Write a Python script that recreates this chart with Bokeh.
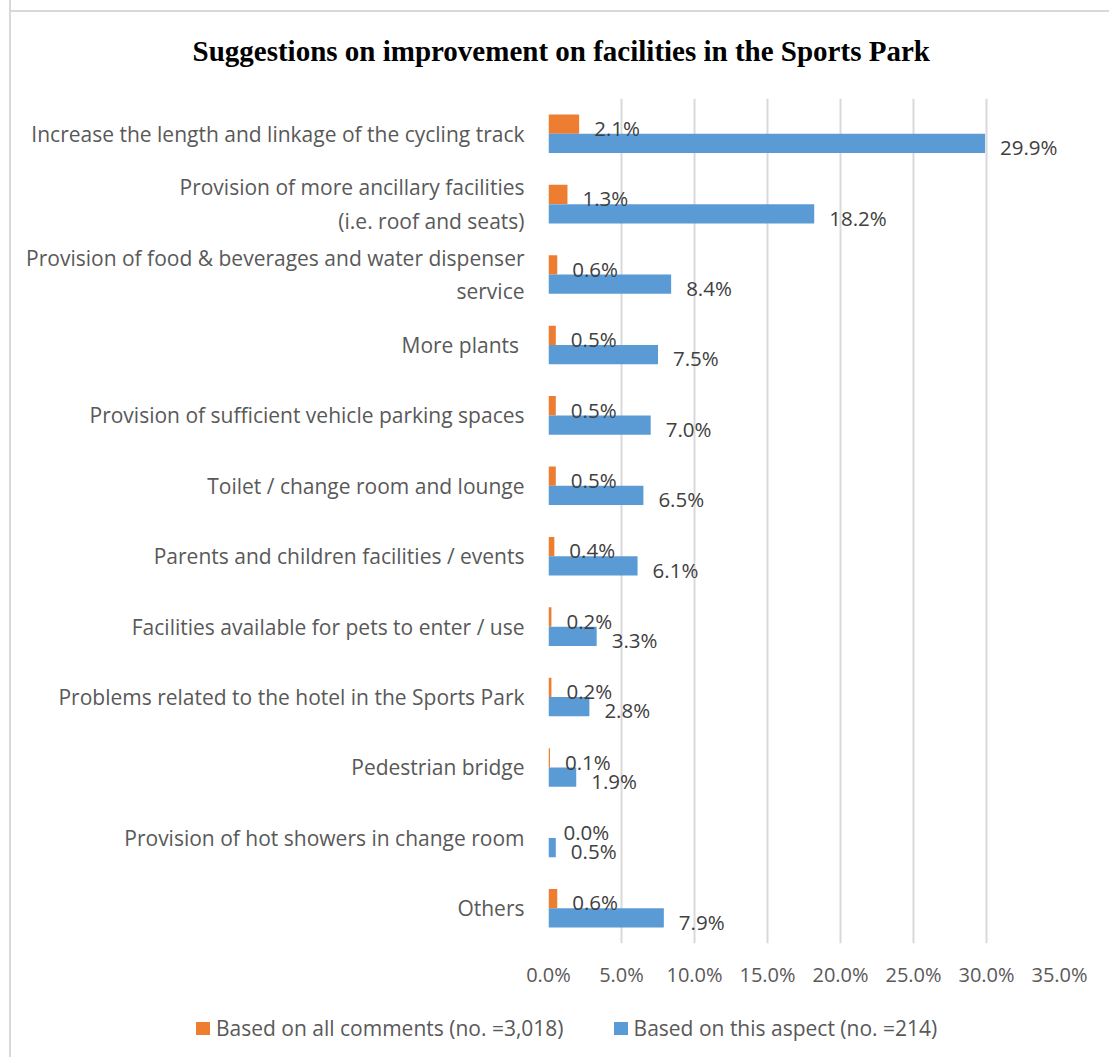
from bokeh.plotting import figure
from bokeh.layouts import column
from bokeh.models import (ColumnDataSource, FactorRange, Range1d, LabelSet,
                          PrintfTickFormatter, FixedTicker, Div)
from bokeh.core.properties import value
from bokeh.transform import dodge
from bokeh.embed import file_html
from bokeh.resources import INLINE

title_text = "Suggestions on improvement on facilities in the Sports  Park"
categories = [
    "Increase the length and linkage of the cycling track",
    "Provision of more ancillary facilities\n(i.e. roof and seats)",
    "Provision of food & beverages and water dispenser\nservice",
    "More plants ",
    "Provision of sufficient vehicle parking spaces",
    "Toilet / change room and lounge",
    "Parents and children facilities / events",
    "Facilities available for pets to enter / use",
    "Problems related to the hotel in the Sports Park",
    "Pedestrian bridge",
    "Provision of hot showers in change room",
    "Others",
]
all_comments = [2.1, 1.3, 0.6, 0.5, 0.5, 0.5, 0.4, 0.2, 0.2, 0.1, 0.0, 0.6]
this_aspect = [29.9, 18.2, 8.4, 7.5, 7.0, 6.5, 6.1, 3.3, 2.8, 1.9, 0.5, 7.9]
series_names = ["Based on all comments (no. =3,018)", "Based on this aspect (no. =214)"]
x_ticks = [0, 5, 10, 15, 20, 25, 30, 35]

ORANGE = "#ED7D31"
BLUE = "#5B9BD5"
series_colors = [ORANGE, BLUE]
FONT = "Open Sans"
BORDER = "#D9D9D9"
NBSP = "\u00a0"
ZWSP = "\u200b"

# second lines of wrapped labels are centred under the first line (as in the original)
label_pad = {categories[1]: 14, categories[2]: 39}
label_overrides = {}
for cat, n in label_pad.items():
    first, second = cat.split("\n")
    label_overrides[cat] = first + "\n" + second + NBSP * n + ZWSP

src = ColumnDataSource(dict(
    cat=categories,
    a=all_comments,
    b=this_aspect,
    a_lbl=[f"{v:.1f}%" for v in all_comments],
    b_lbl=[f"{v:.1f}%" for v in this_aspect],
))

vline = f"linear-gradient(to right, transparent 9px, {BORDER} 9px, {BORDER} 11px, transparent 11px)"
hline = f"linear-gradient(to bottom, transparent 10px, {BORDER} 10px, {BORDER} 12px, transparent 12px)"

p = figure(width=1109, height=1000,
           y_range=FactorRange(*categories[::-1]),
           x_range=Range1d(0, 35),
           output_backend="svg", toolbar_location=None,
           min_border_left=548, min_border_right=50,
           min_border_top=97, min_border_bottom=57,
           styles={
               "background-image": f"{vline}, {hline}",
               "background-position": "0px 0px, 9px 0px",
               "background-size": "100% 100%, 100% 100%",
               "background-repeat": "no-repeat",
           })
p.border_fill_color = None
p.background_fill_color = "#FFFFFF"

bar_h = 0.274
r_a = p.hbar(y=dodge("cat", bar_h / 2, range=p.y_range), right="a", left=0, height=bar_h,
             source=src, fill_color=ORANGE, line_color=None)
r_b = p.hbar(y=dodge("cat", -bar_h / 2, range=p.y_range), right="b", left=0, height=bar_h,
             source=src, fill_color=BLUE, line_color=None)

lbl_a = LabelSet(x="a", y=dodge("cat", bar_h / 2 - 0.054, range=p.y_range), text="a_lbl",
                 source=src, x_offset=15, text_baseline="middle", text_align="left",
                 text_font=value(FONT), text_font_size=value("20.5px"), text_color="#404040")
lbl_b = LabelSet(x="b", y=dodge("cat", -bar_h / 2 - 0.054, range=p.y_range), text="b_lbl",
                 source=src, x_offset=15, text_baseline="middle", text_align="left",
                 text_font=value(FONT), text_font_size=value("20.5px"), text_color="#404040")
p.add_layout(lbl_a)
p.add_layout(lbl_b)

p.title.text = title_text
p.title.text_font = "Liberation Serif"
p.title.text_font_style = "bold"
p.title.text_font_size = "29px"
p.title.text_color = "#000000"
p.title.align = "left"
p.title.offset = -356
p.title.standoff = 64

p.xaxis.ticker = FixedTicker(ticks=x_ticks)
p.xaxis.formatter = PrintfTickFormatter(format="%.1f%%")
p.xaxis.axis_line_color = None
p.xaxis.major_tick_line_color = None
p.xaxis.minor_tick_line_color = None
p.xaxis.major_tick_out = 0
p.xaxis.major_tick_in = 0
p.xaxis.major_label_standoff = 17
p.xaxis.major_label_text_font = FONT
p.xaxis.major_label_text_font_size = "20px"
p.xaxis.major_label_text_color = "#595959"

p.yaxis.axis_line_color = None
p.yaxis.major_tick_line_color = None
p.yaxis.minor_tick_line_color = None
p.yaxis.major_tick_out = 0
p.yaxis.major_tick_in = 0
p.yaxis.major_label_standoff = 24
p.yaxis.major_label_text_font = FONT
p.yaxis.major_label_text_font_size = "21px"
p.yaxis.major_label_text_color = "#595959"
p.yaxis.major_label_overrides = label_overrides

p.xgrid.ticker = FixedTicker(ticks=x_ticks)
p.xgrid.grid_line_color = BORDER
p.xgrid.grid_line_width = 2
p.ygrid.grid_line_color = None
p.outline_line_color = None

# legend strip below the chart (HTML text)
items_html = "".join(
    f'<span style="display:inline-flex;align-items:center;margin-right:50px;">'
    f'<span style="display:inline-block;width:14px;height:13px;background:{c};margin-right:6px;"></span>'
    f'{name}</span>'
    for name, c in zip(series_names, series_colors)
)
legend_div = Div(
    text=(f'<div style="position:relative;width:1109px;height:57px;">'
          f'<div style="position:absolute;left:196px;top:14px;display:flex;align-items:center;'
          f'font-family:\'{FONT}\';font-size:21px;line-height:28px;color:#595959;white-space:nowrap;">'
          f'{items_html}</div></div>'),
    width=1109, height=57, margin=0,
    styles={"background-image": vline, "background-repeat": "no-repeat"},
)

layout = column(p, legend_div, spacing=0)

open("out.html", "w").write(file_html(layout, INLINE))
